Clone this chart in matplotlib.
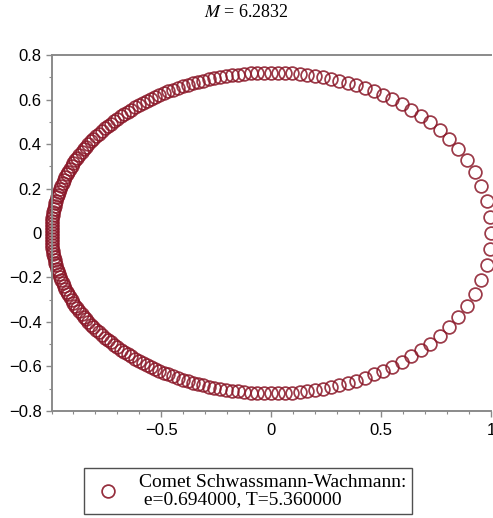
import matplotlib
matplotlib.use("Agg")
import matplotlib.pyplot as plt
from matplotlib.ticker import MultipleLocator, FixedLocator, FuncFormatter

# Orbit positions (upper half, perihelion -> aphelion)
x_upper = [1.000, 0.995, 0.980, 0.956, 0.926, 0.890, 0.851, 0.810, 0.767, 0.724,
           0.681, 0.637, 0.594, 0.551, 0.509, 0.468, 0.426, 0.387, 0.347, 0.309,
           0.271, 0.235, 0.199, 0.163, 0.129, 0.095, 0.062, 0.030, -0.003, -0.033,
           -0.064, -0.094, -0.122, -0.151, -0.179, -0.206, -0.232, -0.259, -0.284, -0.309,
           -0.333, -0.357, -0.380, -0.403, -0.426, -0.447, -0.468, -0.489, -0.509, -0.529,
           -0.548, -0.567, -0.585, -0.603, -0.621, -0.638, -0.654, -0.670, -0.686, -0.701,
           -0.716, -0.731, -0.744, -0.758, -0.772, -0.784, -0.797, -0.809, -0.820, -0.832,
           -0.843, -0.853, -0.863, -0.873, -0.882, -0.891, -0.900, -0.908, -0.916, -0.924,
           -0.931, -0.938, -0.944, -0.950, -0.956, -0.961, -0.966, -0.971, -0.975, -0.979,
           -0.983, -0.986, -0.989, -0.992, -0.994, -0.996, -0.997, -0.999, -0.999, -1.000,
           -1.000]
y_upper = [0.000, 0.073, 0.144, 0.211, 0.272, 0.328, 0.378, 0.422, 0.462, 0.497,
           0.528, 0.555, 0.579, 0.601, 0.620, 0.636, 0.651, 0.664, 0.675, 0.685,
           0.693, 0.700, 0.706, 0.710, 0.714, 0.717, 0.719, 0.720, 0.720, 0.720,
           0.719, 0.717, 0.715, 0.712, 0.708, 0.705, 0.700, 0.695, 0.690, 0.685,
           0.679, 0.673, 0.666, 0.659, 0.652, 0.644, 0.636, 0.628, 0.620, 0.611,
           0.602, 0.593, 0.584, 0.574, 0.565, 0.555, 0.545, 0.535, 0.524, 0.513,
           0.503, 0.492, 0.481, 0.470, 0.458, 0.447, 0.435, 0.424, 0.412, 0.400,
           0.388, 0.376, 0.364, 0.351, 0.339, 0.327, 0.314, 0.302, 0.289, 0.276,
           0.263, 0.251, 0.238, 0.225, 0.212, 0.199, 0.186, 0.173, 0.160, 0.146,
           0.133, 0.120, 0.107, 0.093, 0.080, 0.067, 0.053, 0.040, 0.027, 0.013,
           0.000]

comet_name = "Comet Schwassmann-Wachmann:"
ecc_text = " e=0.694000, T=5.360000"
title_text = r"$M$ = 6.2832"

x_major = [-0.5, 0, 0.5, 1]
y_major = [-0.8, -0.6, -0.4, -0.2, 0, 0.2, 0.4, 0.6, 0.8]

# lower half is the mirror image of the upper half (aphelion -> perihelion)
x_orbit = x_upper + x_upper[99:0:-1]
y_orbit = y_upper + [-v for v in y_upper[99:0:-1]]

RED = "#8a1728"
GRAY = "#8a8a8a"

fig = plt.figure(figsize=(4.93, 5.18), dpi=100)
ax = fig.add_axes([0.1045, 0.2066, 0.8915, 0.6872])

ax.plot(x_orbit, y_orbit, linestyle="none", marker="o", markersize=9.2,
        markerfacecolor="none", markeredgecolor=RED, markeredgewidth=1.25,
        alpha=0.85, clip_on=False, label=comet_name + "\n" + ecc_text)

ax.set_xlim(-1, 1)
ax.set_ylim(-0.8, 0.8)

ax.xaxis.set_major_locator(FixedLocator(x_major))
ax.yaxis.set_major_locator(FixedLocator(y_major))
ax.xaxis.set_minor_locator(MultipleLocator(0.1))
ax.yaxis.set_minor_locator(MultipleLocator(0.1))


def fmt(v, pos):
    if abs(v) < 1e-9:
        return "0"
    s = ("%g" % v)
    return s.replace("-", "\u2212")


ax.xaxis.set_major_formatter(FuncFormatter(fmt))
ax.yaxis.set_major_formatter(FuncFormatter(fmt))

ax.tick_params(which="major", direction="out", length=4, width=1, color=GRAY,
               labelsize=12, pad=3)
ax.tick_params(which="minor", direction="out", length=2.5, width=0.8, color=GRAY)
ax.tick_params(axis="x", which="major", pad=5)
for lab in ax.get_xticklabels() + ax.get_yticklabels():
    lab.set_fontfamily("Liberation Sans")

for side in ["left", "bottom", "top"]:
    ax.spines[side].set_color(GRAY)
    ax.spines[side].set_linewidth(1.4)
ax.spines["right"].set_visible(False)

fig.text(0.5, 0.975, title_text, ha="center", va="center", fontsize=13,
         family="Liberation Serif", math_fontfamily="stix")

leg = fig.legend(loc="center", bbox_to_anchor=(0.503, 0.052), frameon=True,
                 fancybox=False, framealpha=1, edgecolor="#505050",
                 prop={"family": "Liberation Serif", "size": 14},
                 borderpad=0.3, handlelength=1.9, handletextpad=0.6,
                 borderaxespad=0)
leg.get_frame().set_linewidth(1.0)
for t in leg.get_texts():
    t.set_linespacing(1.0)
for h in leg.legend_handles:
    h.set_alpha(0.9)

fig.savefig("out.png", dpi=100)
